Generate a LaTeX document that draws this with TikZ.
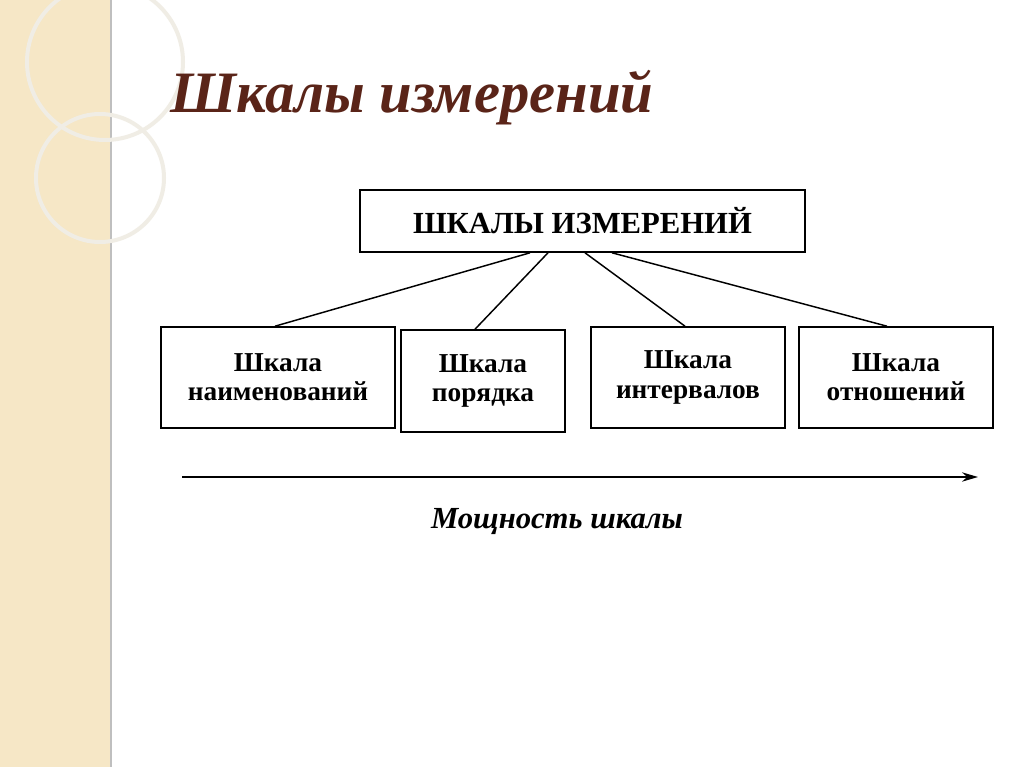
\documentclass[tikz,border=0pt]{standalone}
\usepackage{fontspec}
\setmainfont{Liberation Serif}
\usetikzlibrary{arrows.meta}
\definecolor{beige}{HTML}{F6E7C6}
\definecolor{titlec}{HTML}{5A2418}
\begin{document}
\begin{tikzpicture}[x=0.75pt,y=-0.75pt,
  box/.style={draw,line width=1.2pt,inner sep=0pt,align=center,font=\bfseries\fontsize{20.5}{22}\selectfont},
  conn/.style={line width=1.1pt}]
\useasboundingbox (0,0) rectangle (1024,767);
\fill[white] (0,0) rectangle (1024,767);
\fill[beige] (0,0) rectangle (110,767);
\draw[gray!50,line width=0.8pt] (111,0) -- (111,767);
\draw[white!75!beige!90!gray,line width=3pt] (105,62) circle (78);
\draw[white!75!beige!90!gray,line width=3pt] (100,178) circle (64);
\node[font=\bfseries\itshape\fontsize{44}{48}\selectfont,text=titlec,anchor=west] (t) at (166,98) {Шкалы измерений};
\node[box,minimum width=445*0.75pt,minimum height=62*0.75pt,font=\bfseries\fontsize{23}{25}\selectfont] (top) at (582.5,221) {ШКАЛЫ ИЗМЕРЕНИЙ};
\node[box,minimum width=234*0.75pt,minimum height=101*0.75pt] (b1) at (278,377.5) {Шкала\\наименований};
\node[box,minimum width=164*0.75pt,minimum height=102*0.75pt] (b2) at (483,381) {Шкала\\порядка};
\node[box,minimum width=194*0.75pt,minimum height=101*0.75pt] (b3) at (688,377.5) {Шкала\\интервалов};
\node[box,minimum width=194*0.75pt,minimum height=101*0.75pt] (b4) at (896,377.5) {Шкала\\отношений};
\draw[conn] (top.south -| 530,0) -- (b1.north -| 275,0);
\draw[conn] (top.south -| 548,0) -- (b2.north -| 475,0);
\draw[conn] (top.south -| 585,0) -- (b3.north -| 685,0);
\draw[conn] (top.south -| 612,0) -- (b4.north -| 887,0);
\coordinate (a1) at (182,477);
\coordinate (a2) at (978,477);
\draw[line width=1.3pt,-{Stealth[length=12pt,width=7pt]}] (a1) -- (a2);
\node[font=\bfseries\itshape\fontsize{23}{25}\selectfont] (lab) at (557,522) {Мощность шкалы};
\end{tikzpicture}
\end{document}
